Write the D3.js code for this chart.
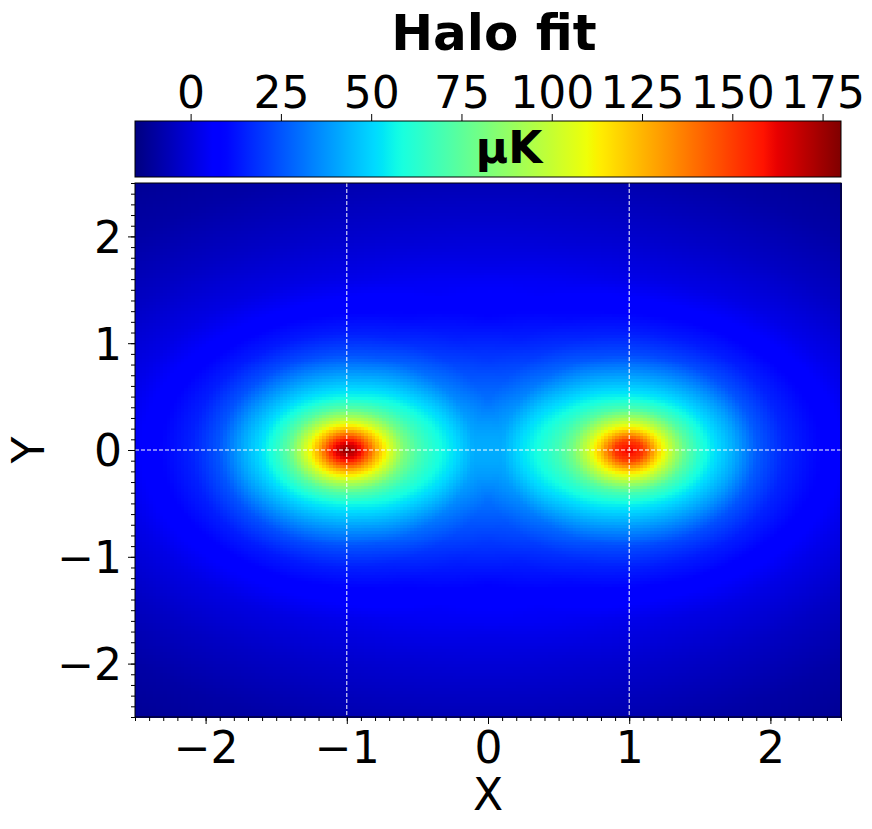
<!DOCTYPE html>
<html>
<head>
<meta charset="utf-8">
<script src="https://cdn.jsdelivr.net/npm/d3@7.9.0/dist/d3.min.js"></script>
<style>
  body { margin: 0; background: #fff; }
  svg { font-family: "DejaVu Sans", sans-serif; }
</style>
</head>
<body>
<svg id="chart" width="872" height="829"></svg>
<script>
// --- values ---
const title = 'Halo fit';
const unitLabel = 'µK';
const xTicks = [-2, -1, 0, 1, 2];
const yTicks = [-2, -1, 0, 1, 2];
const cbTicks = [0, 25, 50, 75, 100, 125, 150, 175];
const vmin = -15.4, vmax = 180.1;
const haloCenters = [-1, 1];   // dashed guide lines at x = -1, 1 and y = 0

// halo brightness above background (µK) vs distance from halo centre
const radii       = [0,   0.1, 0.2, 0.3, 0.4, 0.5, 0.6, 0.75, 0.9, 1.1, 1.3, 1.6, 2.0, 2.5, 4];
const leftAlongX  = [172, 152, 120, 95,  72,  58,  48,  36,   22,  12,  8,   4,   1,   0,   0];
const leftAlongY  = [172, 150, 116, 88,  65,  50,  42,  30,   19,  10,  5,   1,   0,   0,   0];
const rightAlongX = [156, 144, 114, 90,  70,  57,  48,  37,   23,  13,  9,   5,   1,   0,   0];
const rightAlongY = [156, 142, 110, 85,  62,  49,  41,  29,   18,  10,  5,   1,   0,   0,   0];
// broad background level vs scaled radius from the origin
const bgRho = [0, 0.4, 0.7, 1.0, 1.2, 1.45];
const bgVal = [7, 6,   3,   -4,  -9,  -13];

// jet colormap segments
const jetR = [[0, 0], [0.35, 0], [0.66, 1], [0.89, 1], [1, 0.5]];
const jetG = [[0, 0], [0.125, 0], [0.375, 1], [0.64, 1], [0.91, 0], [1, 0]];
const jetB = [[0, 0.5], [0.11, 1], [0.34, 1], [0.65, 0], [1, 0]];
const seg = s => d3.scaleLinear().domain(s.map(p => p[0])).range(s.map(p => p[1])).clamp(true);
const cr = seg(jetR), cg = seg(jetG), cb = seg(jetB);
const norm = d3.scaleLinear().domain([vmin, vmax]).range([0, 1]).clamp(true);
const jet = v => {
  const t = norm(v);
  return d3.rgb(cr(t) * 255, cg(t) * 255, cb(t) * 255).formatHex();
};

const svg = d3.select('#chart');
const pL = 135, pR = 841, pT = 183, pB = 717;
const x = d3.scaleLinear().domain([-2.5, 2.5]).range([pL, pR]);
const y = d3.scaleLinear().domain([-2.5, 2.5]).range([pB, pT]);

const prof = arr => d3.scaleLinear().domain(radii).range(arr).clamp(true);
const pLX = prof(leftAlongX), pLY = prof(leftAlongY);
const pRX = prof(rightAlongX), pRY = prof(rightAlongY);
const bg = d3.scaleLinear().domain(bgRho).range(bgVal).clamp(true);

function halo(dx, dy, px, py) {
  const r = Math.hypot(dx, dy);
  if (r === 0) return px(0);
  const c2 = dx * dx / (r * r);
  return px(r) * c2 + py(r) * (1 - c2);
}

function field(px, py) {
  const rho = Math.hypot(px / 3, py / 2.3);
  return bg(rho) + halo(px - haloCenters[0], py, pLX, pLY) + halo(px - haloCenters[1], py, pRX, pRY);
}

// grid cells
const nx = 200, ny = 180;
const gx = d3.scaleLinear().domain([0, nx]).range([-2.5, 2.5]);
const gy = d3.scaleLinear().domain([0, ny]).range([-2.5, 2.5]);
const cells = [];
for (let j = 0; j < ny; j++) {
  for (let i = 0; i < nx; i++) {
    const cx = (gx(i) + gx(i + 1)) / 2, cy = (gy(j) + gy(j + 1)) / 2;
    cells.push({ i, j, v: field(cx, cy) });
  }
}

svg.append('g')
  .attr('shape-rendering', 'crispEdges')
  .selectAll('rect')
  .data(cells)
  .join('rect')
  .attr('x', d => x(gx(d.i)))
  .attr('y', d => y(gy(d.j + 1)))
  .attr('width', d => x(gx(d.i + 1)) - x(gx(d.i)) + 0.5)
  .attr('height', d => y(gy(d.j)) - y(gy(d.j + 1)) + 0.5)
  .attr('fill', d => jet(d.v));

// dashed guides
const guides = svg.append('g').attr('stroke', '#fff').attr('stroke-width', 1).attr('stroke-dasharray', '4,2');
haloCenters.forEach(c => {
  guides.append('line').attr('x1', x(c)).attr('x2', x(c)).attr('y1', pT).attr('y2', pB);
});
guides.append('line').attr('x1', pL).attr('x2', pR).attr('y1', y(0)).attr('y2', y(0));

// frame
svg.append('rect').attr('x', pL).attr('y', pT).attr('width', pR - pL).attr('height', pB - pT)
  .attr('fill', 'none').attr('stroke', '#000').attr('stroke-width', 1);

const fmt = d => d < 0 ? '\u2212' + Math.abs(d) : String(d);
const minor = d3.range(-25, 26).map(k => k / 10);

// x axis
svg.append('g').attr('transform', `translate(0,${pB})`)
  .call(d3.axisBottom(x).tickValues(minor).tickSize(4).tickFormat(''))
  .call(g => g.select('.domain').remove());
svg.append('g').attr('transform', `translate(0,${pB})`)
  .call(d3.axisBottom(x).tickValues(xTicks).tickSize(7).tickPadding(8).tickFormat(fmt))
  .call(g => g.select('.domain').remove())
  .call(g => g.selectAll('text').attr('font-size', 44).attr('font-family', 'DejaVu Sans').attr('fill', '#000'));

// y axis
svg.append('g').attr('transform', `translate(${pL},0)`)
  .call(d3.axisLeft(y).tickValues(minor).tickSize(4).tickFormat(''))
  .call(g => g.select('.domain').remove());
svg.append('g').attr('transform', `translate(${pL},0)`)
  .call(d3.axisLeft(y).tickValues(yTicks).tickSize(7).tickPadding(6).tickFormat(fmt))
  .call(g => g.select('.domain').remove())
  .call(g => g.selectAll('text').attr('font-size', 44).attr('font-family', 'DejaVu Sans').attr('fill', '#000').attr('dy', '0.36em'));

// axis labels
svg.append('text').attr('x', x(0)).attr('y', 810).attr('text-anchor', 'middle')
  .attr('font-size', 44).text('X');
svg.append('text').attr('transform', `translate(44,${y(0)}) rotate(-90)`).attr('text-anchor', 'middle')
  .attr('font-size', 44).text('Y');

// colorbar
const cbTop = 121, cbBottom = 177;
const cbx = d3.scaleLinear().domain([vmin, vmax]).range([pL, pR]);
const defs = svg.append('defs');
const grad = defs.append('linearGradient').attr('id', 'jetgrad');
d3.range(0, 101).forEach(k => {
  const v = vmin + (vmax - vmin) * k / 100;
  grad.append('stop').attr('offset', `${k}%`).attr('stop-color', jet(v));
});
svg.append('rect').attr('x', pL).attr('y', cbTop).attr('width', pR - pL).attr('height', cbBottom - cbTop)
  .attr('fill', 'url(#jetgrad)').attr('stroke', '#000').attr('stroke-width', 1);
svg.append('g').attr('transform', `translate(0,${cbTop})`)
  .call(d3.axisTop(cbx).tickValues(cbTicks).tickSize(7).tickPadding(6).tickFormat(fmt))
  .call(g => g.select('.domain').remove())
  .call(g => g.selectAll('text').attr('font-size', 44).attr('font-family', 'DejaVu Sans').attr('fill', '#000'));
svg.append('text').attr('x', 509).attr('y', 163).attr('text-anchor', 'middle')
  .attr('font-size', 44).attr('font-weight', 'bold').text(unitLabel);

// title
svg.append('text').attr('x', 494).attr('y', 50).attr('text-anchor', 'middle')
  .attr('font-size', 50).attr('font-weight', 'bold').text(title);
</script>
</body>
</html>
